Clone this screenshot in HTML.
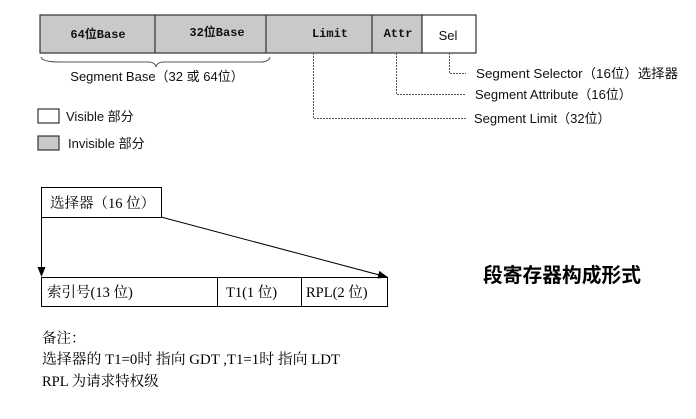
<!DOCTYPE html>
<html><head><meta charset="utf-8"><style>
html,body{margin:0;padding:0;background:#fff;width:696px;height:419px;overflow:hidden}
svg{display:block}
.m{font-family:"Liberation Mono","Noto Sans CJK SC",monospace;font-weight:bold;font-size:12px;fill:#111}
.s{font-family:"Liberation Sans","Noto Sans CJK SC",sans-serif;font-size:13px;fill:#111}
.r{font-family:"Liberation Serif","Noto Serif CJK SC",serif;font-size:14.5px;fill:#000}
</style></head><body>
<svg width="696" height="419" viewBox="0 0 696 419" xmlns="http://www.w3.org/2000/svg">
<defs><marker id="a" markerWidth="10" markerHeight="8" refX="9" refY="4" orient="auto" markerUnits="userSpaceOnUse"><path d="M0,0L10,4L0,8z" fill="#000"/></marker></defs>
<g stroke="#333" stroke-width="1.2">
<rect x="40" y="15" width="382" height="38" fill="#c9c9c9"/>
<rect x="422" y="15" width="54" height="38" fill="#fff"/>
<line x1="155" y1="15" x2="155" y2="53"/>
<line x1="266" y1="15" x2="266" y2="53"/>
<line x1="372" y1="15" x2="372" y2="53"/>
</g>
<text class="m" x="98" y="38" text-anchor="middle">64位Base</text>
<text class="m" x="217" y="36" text-anchor="middle">32位Base</text>
<text class="m" x="330" y="37" text-anchor="middle">Limit</text>
<text class="m" x="398" y="37" text-anchor="middle">Attr</text>
<text class="s" x="448" y="40" text-anchor="middle">Sel</text>
<path d="M41,57 Q42,62 60,62 L148,62 Q155,62 156,67 Q157,62 164,62 L260,62 Q269,62 270,57" fill="none" stroke="#555" stroke-width="1"/>
<text class="s" x="157" y="81" text-anchor="middle">Segment Base（32 或 64位）</text>
<g stroke="#555" stroke-width="1" stroke-dasharray="2,1" fill="none">
<path d="M313.5,53 V118.5 H466"/>
<path d="M396.5,53 V94.5 H466"/>
<path d="M449.5,53 V73.5 H466"/>
</g>
<text class="s" x="476" y="78" textLength="202" lengthAdjust="spacingAndGlyphs">Segment Selector（16位）选择器</text>
<text class="s" x="475" y="99">Segment Attribute（16位）</text>
<text class="s" x="474" y="123">Segment Limit（32位）</text>
<rect x="38" y="109" width="21" height="14" fill="#fff" stroke="#333" stroke-width="1.2"/>
<text class="s" x="66" y="121">Visible 部分</text>
<rect x="38" y="136" width="21" height="14" fill="#c9c9c9" stroke="#333" stroke-width="1.2"/>
<text class="s" x="68" y="148">Invisible 部分</text>
<g stroke="#000" stroke-width="1" fill="none">
<rect x="41.5" y="187.5" width="120" height="30" fill="#fff"/>
<rect x="41.5" y="277.5" width="346" height="29"/>
<line x1="217.5" y1="277" x2="217.5" y2="307"/>
<line x1="301.5" y1="277" x2="301.5" y2="307"/>
<line x1="41.5" y1="217" x2="41.5" y2="276" marker-end="url(#a)"/>
<line x1="161" y1="217" x2="387" y2="277" marker-end="url(#a)"/>
</g>
<text class="r" x="50" y="208">选择器（16 位）</text>
<text class="r" x="47" y="297">索引号(13 位)</text>
<text class="r" x="226" y="297">T1(1 位)</text>
<text class="r" x="306" y="297">RPL(2 位)</text>
<text x="483" y="282" style="font-family:'Liberation Sans','Noto Sans CJK SC',sans-serif;font-weight:bold;font-size:20px" textLength="158" lengthAdjust="spacingAndGlyphs">段寄存器构成形式</text>
<text class="r" x="42" y="343">备注：</text>
<text class="r" x="42" y="364" textLength="298" lengthAdjust="spacingAndGlyphs">选择器的 T1=0时  指向 GDT ,T1=1时  指向 LDT</text>
<text class="r" x="42" y="386">RPL 为请求特权级</text>
</svg>
</body></html>
